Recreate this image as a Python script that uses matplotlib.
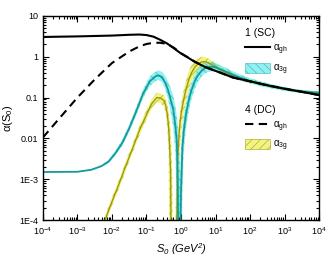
import matplotlib
matplotlib.use("Agg")
import matplotlib.pyplot as plt
from matplotlib.lines import Line2D
from matplotlib.patches import Patch

plt.rcParams['font.family'] = ['Liberation Sans', 'DejaVu Sans']
plt.rcParams['mathtext.default'] = 'regular'
plt.rcParams['hatch.linewidth'] = 0.5

# alpha_gh, SC (solid) and DC (dashed)
s0_gh = [1e-4, 1e-3, 0.01, 0.032, 0.063, 0.1, 0.16, 0.25, 0.4, 0.63, 1.0, 1.6, 2.5, 5.0, 10, 32, 100, 316, 1000, 3162, 10000]
sc_gh = [3.05, 3.15, 3.3, 3.45, 3.5, 3.4, 3.1, 2.6, 2.1, 1.6, 1.2, 0.95, 0.75, 0.56, 0.45, 0.31, 0.25, 0.2, 0.165, 0.138, 0.115]
s0_dc = [1e-4, 3.2e-4, 1e-3, 3.2e-3, 0.01, 0.032, 0.063, 0.1, 0.16, 0.25, 0.4, 0.63, 1.0, 1.6, 2.5, 5.0, 10, 32, 100, 316, 1000, 3162, 10000]
dc_gh = [0.0105, 0.033, 0.1, 0.28, 0.7, 1.35, 1.8, 2.05, 2.2, 2.2, 2.05, 1.65, 1.22, 0.96, 0.76, 0.56, 0.45, 0.31, 0.25, 0.2, 0.165, 0.138, 0.115]

# alpha_3g SC, below the zero near S0 ~ 0.85
s0_scl = [1e-4, 1e-3, 2.5e-3, 5e-3, 8e-3, 0.0125, 0.02, 0.032, 0.05, 0.08, 0.125, 0.18, 0.22, 0.28, 0.35, 0.42, 0.5, 0.6, 0.68, 0.76, 0.81, 0.85, 0.9, 0.95, 1.0]
scl_mid = [0.0015, 0.00152, 0.0017, 0.0021, 0.0027, 0.0043, 0.0078, 0.018, 0.045, 0.125, 0.25, 0.33, 0.35, 0.32, 0.23, 0.155, 0.09, 0.05, 0.022, 0.0078, 0.0006, 1e-6, 1e-6, 1e-6, 1e-6]
scl_lo = [0.0015, 0.0015, 0.00165, 0.002, 0.0025, 0.0038, 0.0066, 0.015, 0.036, 0.098, 0.19, 0.25, 0.27, 0.24, 0.16, 0.095, 0.045, 0.018, 0.005, 0.0003, 1e-6, 1e-6, 1e-6, 1e-6, 1e-6]
scl_hi = [0.0015, 0.00155, 0.00175, 0.0022, 0.003, 0.0049, 0.0093, 0.022, 0.057, 0.16, 0.33, 0.43, 0.46, 0.43, 0.34, 0.25, 0.17, 0.11, 0.065, 0.035, 0.02, 0.01, 0.004, 0.001, 1e-6]

# alpha_3g DC, below its zero near S0 ~ 0.53
s0_dcl = [5e-3, 6.3e-3, 0.01, 0.016, 0.025, 0.04, 0.063, 0.1, 0.14, 0.2, 0.25, 0.32, 0.36, 0.4, 0.44, 0.47, 0.5, 0.53, 0.56, 0.6]
dcl_mid = [6e-5, 1e-4, 2.8e-4, 7.6e-4, 0.0021, 0.0058, 0.016, 0.038, 0.07, 0.1, 0.098, 0.085, 0.065, 0.04, 0.018, 0.006, 0.0015, 1e-6, 1e-6, 1e-6]
dcl_lo = [4.6e-5, 7.7e-5, 2.2e-4, 5.8e-4, 0.0016, 0.0045, 0.012, 0.029, 0.053, 0.077, 0.074, 0.06, 0.04, 0.018, 0.004, 1e-6, 1e-6, 1e-6, 1e-6, 1e-6]
dcl_hi = [7.5e-5, 1.3e-4, 3.6e-4, 9.8e-4, 0.0027, 0.0075, 0.021, 0.05, 0.09, 0.13, 0.128, 0.115, 0.095, 0.07, 0.045, 0.028, 0.015, 0.006, 0.001, 1e-6]

# above the zeros (both schemes)
s0_r = [0.55, 0.6, 0.65, 0.7, 0.8, 0.9, 1.0, 1.1, 1.2, 1.4, 1.7, 2.0, 2.5, 3.0, 4, 5, 6, 8, 10, 15, 20, 30, 50, 100, 200, 500, 1000, 2000, 5000, 10000]
dcr_hi = [1e-6, 1e-6, 1e-6, 0.0003, 0.008, 0.035, 0.07, 0.11, 0.16, 0.27, 0.46, 0.62, 0.8, 0.9, 1.0, 0.98, 0.92, 0.8, 0.7, 0.56, 0.48, 0.41, 0.34, 0.28, 0.24, 0.2, 0.178, 0.16, 0.148, 0.142]
dcr_mid = [1e-6, 1e-6, 1e-6, 1e-6, 0.003, 0.018, 0.038, 0.062, 0.09, 0.16, 0.28, 0.4, 0.55, 0.65, 0.75, 0.76, 0.72, 0.63, 0.56, 0.46, 0.4, 0.35, 0.3, 0.25, 0.215, 0.182, 0.163, 0.148, 0.137, 0.131]
dcr_lo = [1e-6, 1e-6, 1e-6, 1e-6, 1e-6, 0.004, 0.012, 0.025, 0.04, 0.085, 0.16, 0.25, 0.36, 0.45, 0.55, 0.57, 0.56, 0.5, 0.45, 0.38, 0.34, 0.3, 0.26, 0.225, 0.195, 0.167, 0.15, 0.137, 0.126, 0.12]
scr_hi = [1e-6, 1e-6, 1e-6, 1e-6, 1e-6, 0.0005, 0.006, 0.018, 0.035, 0.075, 0.15, 0.23, 0.36, 0.47, 0.62, 0.7, 0.74, 0.74, 0.7, 0.6, 0.53, 0.45, 0.37, 0.3, 0.25, 0.205, 0.18, 0.162, 0.148, 0.142]
scr_mid = [1e-6, 1e-6, 1e-6, 1e-6, 1e-6, 1e-6, 0.0005, 0.006, 0.015, 0.04, 0.09, 0.15, 0.25, 0.34, 0.46, 0.53, 0.56, 0.57, 0.55, 0.48, 0.43, 0.37, 0.31, 0.255, 0.217, 0.182, 0.162, 0.147, 0.136, 0.13]
scr_lo = [1e-6, 1e-6, 1e-6, 1e-6, 1e-6, 1e-6, 1e-6, 0.0005, 0.005, 0.018, 0.05, 0.09, 0.16, 0.23, 0.33, 0.39, 0.42, 0.44, 0.43, 0.39, 0.35, 0.31, 0.265, 0.222, 0.19, 0.162, 0.146, 0.134, 0.124, 0.119]

x_ticks = [1e-4, 1e-3, 1e-2, 1e-1, 1, 10, 100, 1000, 10000]
x_labels = ['$10^{-4}$', '$10^{-3}$', '$10^{-2}$', '$10^{-1}$', '$10^{0}$', '$10^{1}$', '$10^{2}$', '$10^{3}$', '$10^{4}$']
y_ticks = [1e-4, 1e-3, 1e-2, 0.1, 1, 10]
y_labels = ['1E-4', '1E-3', '0.01', '0.1', '1', '10']

cyan_fill = '#44e8e8'
cyan_line = '#17999a'
yel_fill = '#f0f05a'
yel_line = '#9a9a10'

fig = plt.figure(figsize=(3.3, 2.61), dpi=100)
ax = fig.add_axes([0.130, 0.157, 0.837, 0.782])

# yellow (DC) bands
for s, lo, hi in [(s0_dcl, dcl_lo, dcl_hi), (s0_r, dcr_lo, dcr_hi)]:
    ax.fill_between(s, lo, hi, facecolor=yel_fill, edgecolor=yel_line, hatch='////', lw=0, alpha=0.75)
# cyan (SC) bands
for s, lo, hi in [(s0_scl, scl_lo, scl_hi), (s0_r, scr_lo, scr_hi)]:
    ax.fill_between(s, lo, hi, facecolor=cyan_fill, edgecolor=cyan_line, hatch='\\\\\\\\', lw=0, alpha=0.6)

ax.plot(s0_dcl, dcl_mid, color=yel_line, lw=1.0)
ax.plot(s0_r, dcr_mid, color=yel_line, lw=1.0)
ax.plot(s0_scl, scl_mid, color=cyan_line, lw=1.3)
ax.plot(s0_r, scr_mid, color=cyan_line, lw=1.3)

ax.plot(s0_gh, sc_gh, color='black', lw=1.5)
ax.plot(s0_dc, dc_gh, color='black', lw=1.5, dashes=(4, 2.6))

ax.set_xscale('log')
ax.set_yscale('log')
ax.set_xlim(1e-4, 1e4)
ax.set_ylim(1e-4, 10)
ax.set_xticks(x_ticks)
ax.set_xticklabels(x_labels)
ax.set_yticks(y_ticks)
ax.set_yticklabels(y_labels)
ax.tick_params(which='both', direction='in', top=True, right=True, labelsize=6.5, width=0.8)
ax.tick_params(which='major', length=4)
ax.tick_params(which='minor', length=2)
for sp in ax.spines.values():
    sp.set_linewidth(1.0)

ax.set_xlabel('$S_0$ (GeV$^2$)', fontsize=8, style='italic', labelpad=3)
ax.set_ylabel(r'$\alpha(S_0)$', fontsize=8, labelpad=3)

h1 = [Line2D([], [], color='black', lw=1.5),
      Patch(facecolor=cyan_fill, edgecolor=cyan_line, hatch='\\\\\\\\', lw=0.5, alpha=0.6)]
h2 = [Line2D([], [], color='black', lw=1.5, dashes=(4, 2.6)),
      Patch(facecolor=yel_fill, edgecolor=yel_line, hatch='////', lw=0.5, alpha=0.75)]
labs = [r'$\alpha_{gh}$', r'$\alpha_{3g}$']
leg1 = ax.legend(h1, labs, title='1 (SC)', loc='upper left', bbox_to_anchor=(0.73, 0.94),
                 frameon=False, fontsize=7, title_fontsize=7.5, handlelength=2.6, handleheight=1.2,
                 borderpad=0, borderaxespad=0, alignment='left', handletextpad=0.3)
ax.add_artist(leg1)
ax.legend(h2, labs, title='4 (DC)', loc='upper left', bbox_to_anchor=(0.73, 0.565),
          frameon=False, fontsize=7, title_fontsize=7.5, handlelength=2.6, handleheight=1.2,
          borderpad=0, borderaxespad=0, alignment='left', handletextpad=0.3)

fig.savefig('out.png', dpi=100)
